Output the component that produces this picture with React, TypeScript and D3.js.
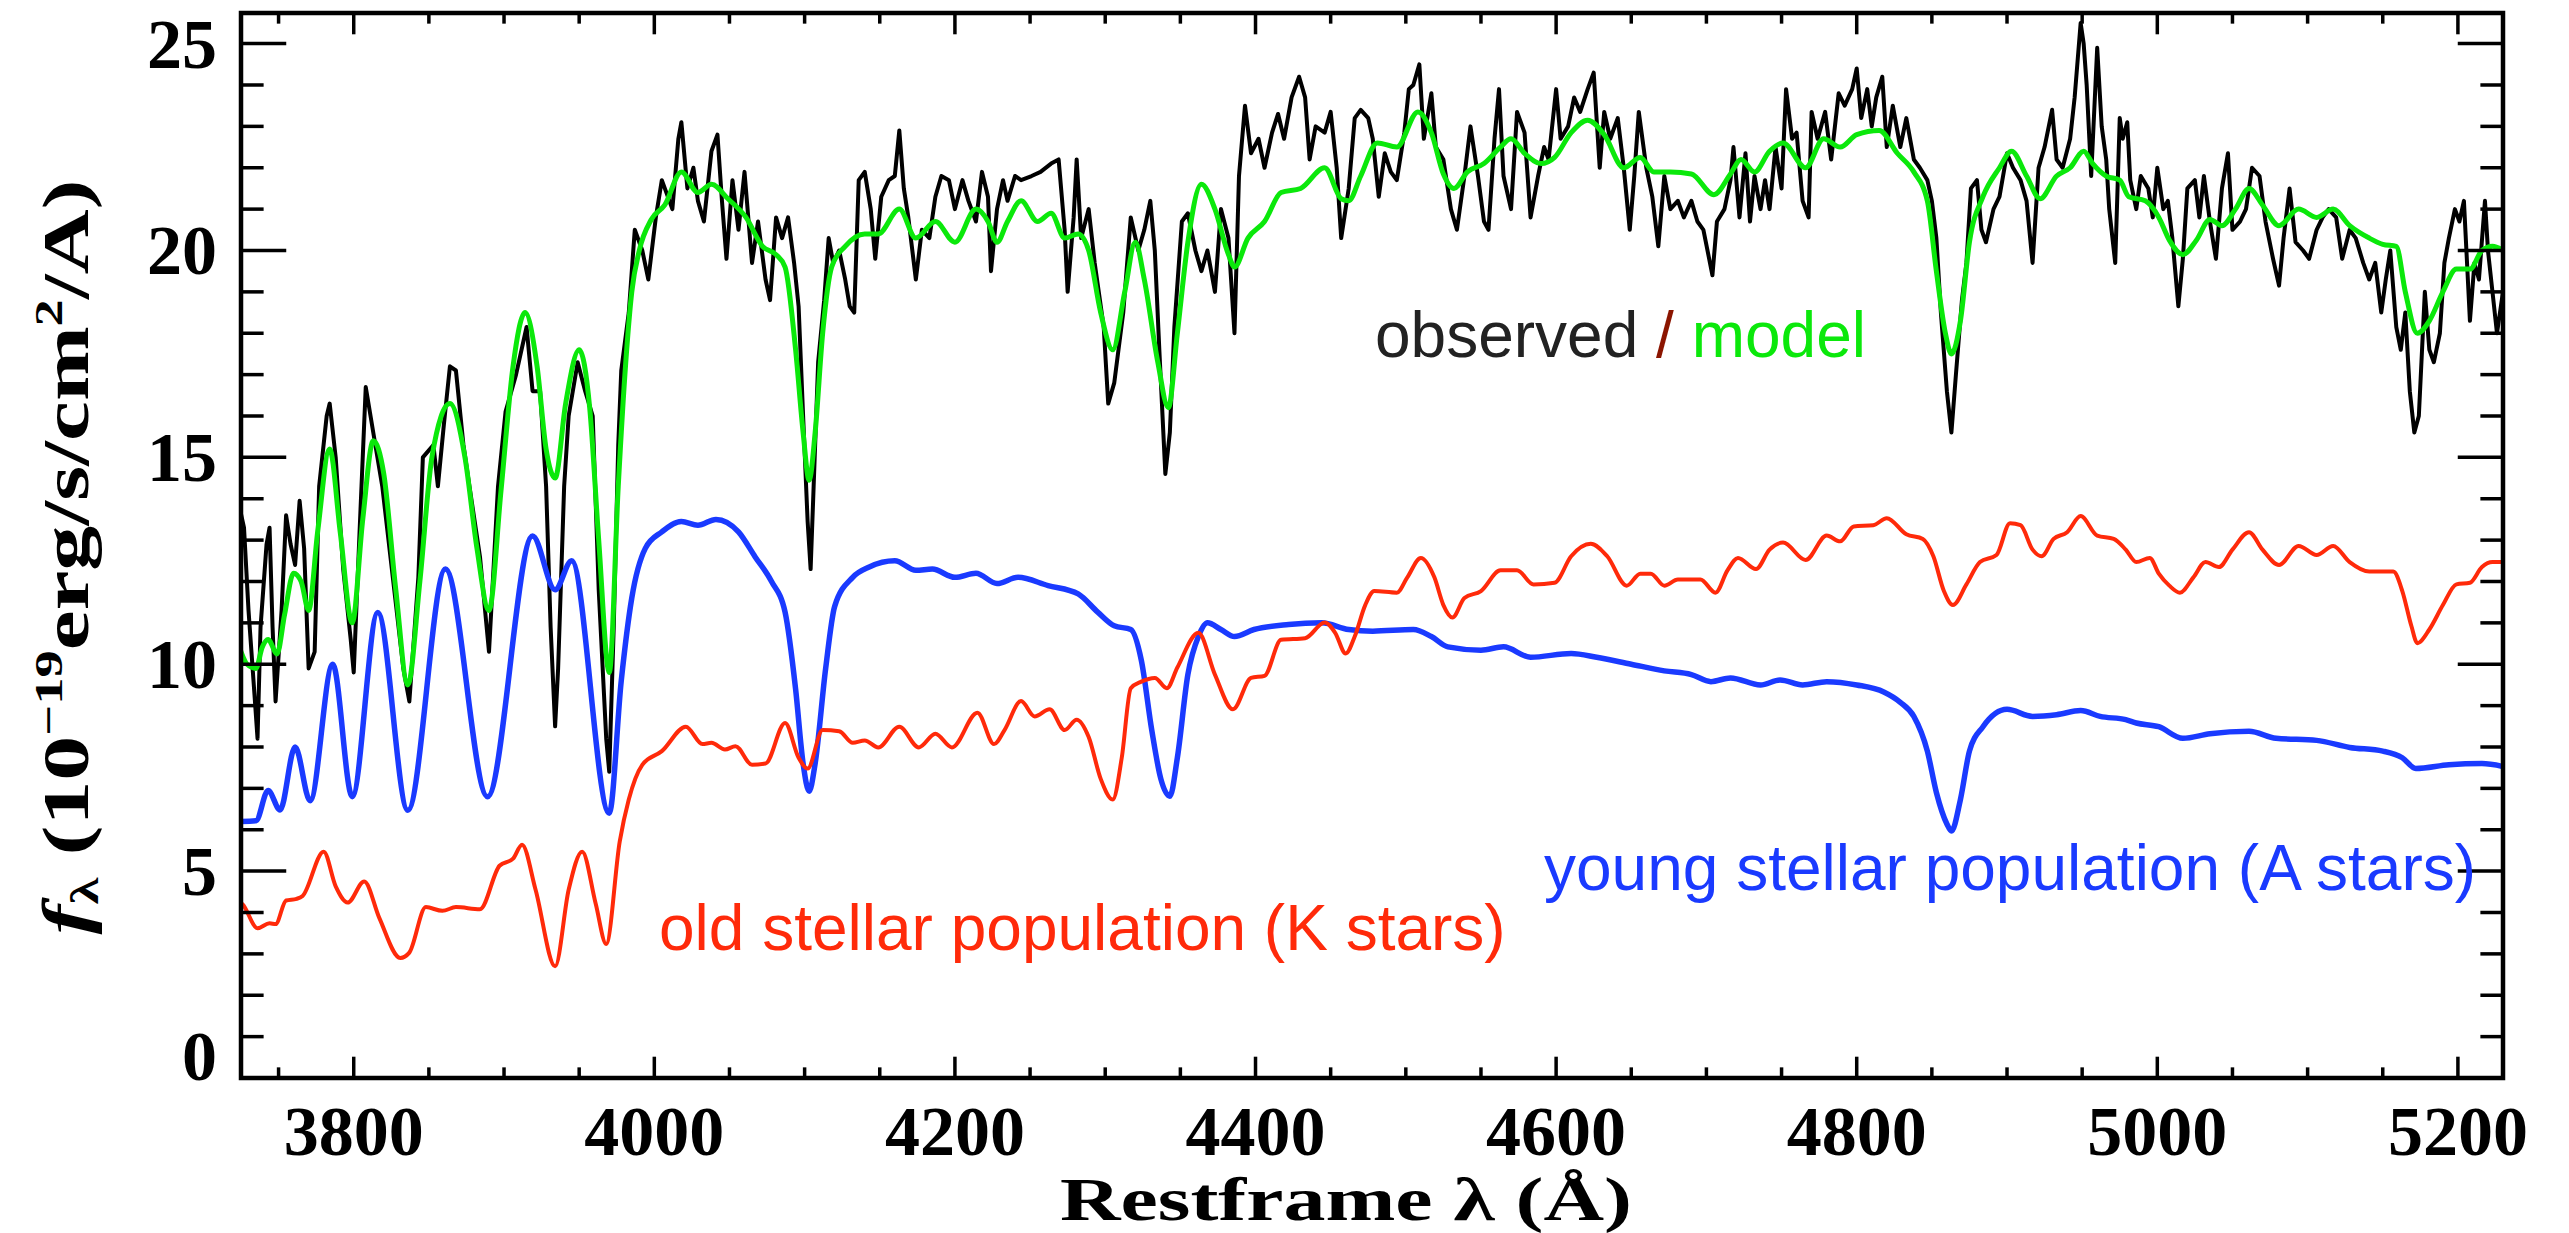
import React from "react";
import * as d3 from "d3";

// Canvas and plot frame (pixels)
const WIDTH = 2569;
const HEIGHT = 1233;
const PLOT = { left: 241, right: 2503, top: 13, bottom: 1078 };

// Axis domains and ticks
const X_DOMAIN: [number, number] = [3725, 5230];
const Y_DOMAIN: [number, number] = [0, 25.74];
const X_MAJOR = [3800, 4000, 4200, 4400, 4600, 4800, 5000, 5200];
const X_MINOR = d3.range(3750, 5230, 50);
const Y_MAJOR = [0, 5, 10, 15, 20, 25];
const Y_MINOR = d3.range(0, 26, 1);

// Observed spectrum: [restframe wavelength (Å), flux (1e-19 erg/s/cm^2/Å)]
const observed: [number, number][] = [
  [3724, 13.8], [3727, 13.3], [3730, 11.3], [3734, 9.25], [3736, 8.2], [3738, 10.9], [3742, 12.9], [3744, 13.3],
  [3746, 10.9], [3748, 9.1], [3752, 11.3], [3755, 13.6], [3758, 12.9], [3761, 12.4], [3764, 13.95], [3767, 12.8],
  [3770, 9.9], [3774, 10.3], [3777, 14.3], [3782, 16.0], [3784, 16.3], [3788, 15.0], [3793, 12.3], [3798, 10.6],
  [3800, 9.8], [3804, 13.3], [3808, 16.7], [3813, 15.6], [3819, 14.3], [3826, 12.1], [3833, 9.9], [3837, 9.1],
  [3843, 12.1], [3846, 15.0], [3853, 15.3], [3856, 14.3], [3860, 15.8], [3864, 17.2], [3868, 17.1], [3873, 15.3],
  [3877, 14.3], [3884, 12.6], [3890, 10.3], [3896, 14.3], [3901, 16.1], [3908, 17.0], [3915, 18.15], [3919, 16.6],
  [3924, 16.6], [3928, 14.3], [3931, 10.9], [3934, 8.5], [3936, 9.9], [3940, 14.3], [3943, 16.0], [3949, 17.3],
  [3954, 16.6], [3959, 16.0], [3963, 11.8], [3968, 8.2], [3970, 7.4], [3973, 10.9], [3976, 15.3], [3978, 17.1],
  [3983, 18.5], [3987, 20.5], [3992, 20.0], [3996, 19.3], [4001, 20.8], [4005, 21.7], [4012, 21.0], [4016, 22.7],
  [4018, 23.1], [4022, 21.5], [4026, 22.0], [4029, 21.2], [4033, 20.7], [4038, 22.4], [4042, 22.8], [4045, 21.2],
  [4048, 19.8], [4052, 21.7], [4056, 20.5], [4060, 21.9], [4065, 19.7], [4069, 20.7], [4074, 19.3], [4077, 18.8],
  [4081, 20.8], [4085, 20.3], [4089, 20.8], [4093, 19.7], [4096, 18.65], [4099, 16.0], [4102, 13.45], [4104, 12.3],
  [4106, 14.3], [4109, 17.3], [4113, 18.8], [4116, 20.3], [4119, 19.7], [4123, 20.0], [4127, 19.3], [4130, 18.65],
  [4133, 18.5], [4136, 21.7], [4140, 21.9], [4144, 21.0], [4147, 19.8], [4151, 21.3], [4156, 21.7], [4160, 21.8],
  [4163, 22.9], [4166, 21.5], [4169, 20.8], [4174, 19.3], [4178, 20.5], [4183, 20.3], [4187, 21.3], [4191, 21.8],
  [4196, 21.7], [4200, 21.0], [4205, 21.7], [4209, 21.2], [4214, 20.7], [4218, 21.9], [4222, 21.3], [4224, 19.5],
  [4228, 21.0], [4232, 21.7], [4235, 21.2], [4240, 21.8], [4244, 21.7], [4251, 21.8], [4257, 21.9], [4264, 22.1],
  [4269, 22.2], [4273, 20.5], [4275, 19.0], [4279, 20.8], [4281, 22.2], [4284, 20.3], [4289, 21.0], [4293, 19.7],
  [4299, 18.15], [4302, 16.3], [4306, 16.8], [4312, 18.5], [4317, 20.8], [4322, 20.0], [4326, 20.5], [4330, 21.2],
  [4333, 20.0], [4336, 17.6], [4340, 14.6], [4343, 15.6], [4346, 18.15], [4351, 20.7], [4355, 20.9], [4360, 20.0],
  [4364, 19.5], [4368, 20.0], [4373, 19.0], [4377, 21.0], [4382, 20.3], [4386, 18.0], [4389, 21.8], [4393, 23.5],
  [4397, 22.35], [4402, 22.7], [4406, 22.0], [4411, 22.85], [4415, 23.3], [4419, 22.7], [4424, 23.7], [4429, 24.2],
  [4433, 23.7], [4436, 22.2], [4440, 23.0], [4446, 22.85], [4450, 23.35], [4454, 22.0], [4457, 20.3], [4462, 21.5],
  [4466, 23.2], [4470, 23.4], [4475, 23.2], [4478, 22.7], [4482, 21.3], [4486, 22.35], [4490, 21.9], [4494, 21.7],
  [4499, 22.85], [4502, 23.9], [4505, 24.0], [4509, 24.5], [4512, 22.7], [4517, 23.8], [4520, 22.5], [4525, 22.2],
  [4530, 21.0], [4534, 20.5], [4539, 21.8], [4543, 23.0], [4548, 21.8], [4552, 20.7], [4555, 20.5], [4559, 22.7],
  [4562, 23.9], [4565, 21.8], [4570, 21.0], [4574, 23.35], [4579, 22.85], [4583, 20.8], [4588, 21.8], [4592, 22.5],
  [4595, 22.2], [4600, 23.9], [4603, 22.7], [4608, 23.0], [4612, 23.7], [4616, 23.35], [4621, 23.9], [4625, 24.3],
  [4629, 22.0], [4632, 23.35], [4636, 22.7], [4641, 23.2], [4645, 22.0], [4649, 20.5], [4652, 21.8], [4655, 23.35],
  [4660, 22.0], [4664, 21.3], [4668, 20.1], [4672, 21.8], [4676, 21.0], [4681, 21.2], [4685, 20.8], [4690, 21.2],
  [4694, 20.7], [4698, 20.5], [4704, 19.4], [4707, 20.7], [4712, 21.0], [4716, 21.7], [4718, 22.5], [4722, 20.8],
  [4726, 22.35], [4729, 20.7], [4732, 21.8], [4736, 21.0], [4739, 21.7], [4742, 21.0], [4746, 22.5], [4750, 21.5],
  [4753, 23.9], [4757, 22.7], [4760, 22.85], [4764, 21.2], [4768, 20.8], [4770, 23.35], [4774, 22.7], [4779, 23.35],
  [4783, 22.2], [4788, 23.8], [4792, 23.5], [4797, 23.9], [4800, 24.4], [4803, 23.2], [4807, 23.9], [4810, 23.0],
  [4813, 23.7], [4817, 24.2], [4820, 22.5], [4824, 23.5], [4829, 22.5], [4833, 23.2], [4838, 22.2], [4842, 22.0],
  [4847, 21.7], [4850, 21.2], [4853, 20.3], [4856, 18.5], [4860, 16.6], [4863, 15.6], [4866, 17.0], [4870, 18.8],
  [4873, 19.7], [4876, 21.5], [4880, 21.7], [4883, 20.5], [4886, 20.2], [4891, 21.0], [4895, 21.3], [4900, 22.35],
  [4904, 22.0], [4909, 21.7], [4913, 21.2], [4917, 19.7], [4921, 22.0], [4925, 22.5], [4930, 23.4], [4933, 22.2],
  [4937, 22.0], [4942, 22.7], [4945, 23.7], [4949, 25.5], [4951, 25.0], [4953, 24.0], [4956, 21.8], [4960, 24.9],
  [4963, 23.0], [4966, 22.2], [4968, 21.0], [4972, 19.7], [4975, 23.2], [4977, 22.7], [4980, 23.1], [4982, 21.7],
  [4986, 21.0], [4989, 21.8], [4994, 21.5], [4997, 20.8], [5000, 22.0], [5004, 21.0], [5007, 21.2], [5010, 20.3],
  [5014, 18.65], [5017, 19.8], [5020, 21.5], [5025, 21.7], [5028, 20.8], [5031, 21.8], [5035, 20.7], [5039, 19.8],
  [5043, 21.5], [5047, 22.35], [5050, 20.5], [5055, 20.7], [5059, 21.0], [5063, 22.0], [5068, 21.8], [5072, 20.7],
  [5077, 19.8], [5081, 19.15], [5084, 20.3], [5088, 21.5], [5092, 20.2], [5097, 20.0], [5101, 19.8], [5106, 20.5],
  [5110, 20.8], [5114, 21.0], [5119, 20.8], [5123, 19.8], [5128, 20.5], [5132, 20.3], [5137, 19.7], [5141, 19.3],
  [5145, 19.7], [5149, 18.5], [5152, 19.3], [5155, 20.0], [5159, 18.15], [5162, 17.6], [5165, 18.5], [5168, 16.6],
  [5171, 15.6], [5174, 16.0], [5178, 19.0], [5181, 17.6], [5184, 17.3], [5188, 18.0], [5191, 19.7], [5194, 20.3],
  [5198, 21.0], [5201, 20.7], [5204, 21.2], [5208, 18.3], [5211, 19.7], [5214, 19.3], [5218, 21.2], [5220, 20.0],
  [5223, 19.0], [5226, 18.0], [5230, 19.0],
];

// Best-fit model (sum of the two stellar populations)
const model: [number, number][] = [
  [3724, 10.4], [3729, 10.0], [3735, 9.9], [3739, 10.4], [3743, 10.6], [3749, 10.25], [3754, 11.2], [3760, 12.2],
  [3765, 12.0], [3770, 11.3], [3776, 13.2], [3784, 15.2], [3791, 13.2], [3799, 11.0], [3806, 13.5], [3813, 15.4],
  [3820, 14.6], [3828, 11.8], [3836, 9.5], [3844, 12.0], [3852, 15.0], [3864, 16.3], [3874, 15.0], [3882, 12.8],
  [3890, 11.3], [3898, 14.2], [3906, 17.2], [3914, 18.5], [3922, 17.2], [3928, 15.2], [3934, 14.5], [3941, 16.3],
  [3950, 17.6], [3957, 16.2], [3963, 13.0], [3970, 9.8], [3976, 14.3], [3981, 17.3], [3985, 19.0], [3990, 20.0],
  [3998, 20.75], [4007, 21.1], [4018, 21.9], [4029, 21.4], [4038, 21.6], [4049, 21.25], [4061, 20.8], [4072, 20.1],
  [4081, 19.9], [4087, 19.6], [4094, 17.6], [4099, 15.6], [4103, 14.45], [4107, 15.6], [4112, 18.0], [4118, 19.6],
  [4127, 20.1], [4140, 20.4], [4149, 20.4], [4163, 21.0], [4174, 20.3], [4187, 20.7], [4200, 20.2], [4214, 21.0],
  [4222, 20.7], [4228, 20.2], [4235, 20.7], [4244, 21.2], [4255, 20.7], [4264, 20.9], [4273, 20.3], [4282, 20.4],
  [4289, 20.0], [4297, 18.5], [4305, 17.6], [4313, 19.0], [4320, 20.2], [4326, 19.3], [4335, 17.3], [4342, 16.2],
  [4348, 18.0], [4355, 20.2], [4364, 21.6], [4373, 21.0], [4382, 19.9], [4386, 19.6], [4395, 20.3], [4406, 20.7],
  [4417, 21.4], [4430, 21.5], [4446, 22.0], [4457, 21.25], [4462, 21.2], [4470, 21.8], [4481, 22.6], [4494, 22.5],
  [4508, 23.35], [4517, 22.85], [4525, 21.85], [4532, 21.5], [4541, 21.9], [4552, 22.1], [4563, 22.5], [4570, 22.7],
  [4579, 22.35], [4590, 22.1], [4599, 22.25], [4610, 22.85], [4621, 23.15], [4632, 22.8], [4645, 22.0], [4656, 22.25],
  [4665, 21.9], [4676, 21.9], [4690, 21.85], [4705, 21.35], [4716, 21.85], [4723, 22.2], [4732, 21.9], [4742, 22.4],
  [4751, 22.6], [4766, 22.0], [4778, 22.7], [4789, 22.5], [4800, 22.8], [4815, 22.9], [4827, 22.35], [4838, 21.9],
  [4847, 21.2], [4853, 19.5], [4859, 18.0], [4863, 17.5], [4869, 18.3], [4875, 20.2], [4884, 21.3], [4895, 22.0],
  [4903, 22.4], [4913, 21.8], [4922, 21.25], [4933, 21.8], [4942, 22.0], [4951, 22.4], [4957, 22.1], [4966, 21.8],
  [4975, 21.7], [4981, 21.3], [4992, 21.2], [5001, 20.8], [5008, 20.25], [5017, 19.9], [5026, 20.25], [5035, 20.75],
  [5043, 20.6], [5052, 21.0], [5061, 21.5], [5070, 21.1], [5081, 20.6], [5094, 21.0], [5106, 20.8], [5117, 21.0],
  [5128, 20.6], [5141, 20.3], [5150, 20.15], [5159, 20.1], [5165, 19.0], [5173, 18.0], [5181, 18.3], [5190, 19.0],
  [5199, 19.55], [5208, 19.55], [5216, 20.0], [5223, 20.1], [5230, 20.0],
];

// Young stellar population (A stars)
const youngPop: [number, number][] = [
  [3724, 6.2], [3735, 6.22], [3743, 6.95], [3751, 6.48], [3761, 8.0], [3771, 6.7], [3786, 10.0], [3799, 6.8],
  [3816, 11.25], [3836, 6.47], [3861, 12.3], [3889, 6.8], [3919, 13.1], [3934, 11.8], [3945, 12.5], [3970, 6.4],
  [3978, 9.6], [3985, 11.6], [3994, 12.8], [4005, 13.2], [4018, 13.45], [4029, 13.36], [4041, 13.5], [4056, 13.2],
  [4067, 12.6], [4078, 12.0], [4087, 11.26], [4094, 9.4], [4099, 7.6], [4103, 6.93], [4107, 7.6], [4114, 9.9],
  [4120, 11.4], [4132, 12.1], [4143, 12.35], [4160, 12.5], [4174, 12.27], [4185, 12.3], [4200, 12.1], [4214, 12.2],
  [4228, 11.95], [4242, 12.1], [4262, 11.9], [4282, 11.7], [4295, 11.26], [4306, 10.93], [4317, 10.84], [4324, 10.1],
  [4331, 8.4], [4337, 7.23], [4343, 6.81], [4348, 7.74], [4355, 9.75], [4362, 10.67], [4368, 11.0], [4377, 10.84],
  [4386, 10.67], [4399, 10.84], [4422, 10.96], [4444, 11.0], [4462, 10.84], [4478, 10.8], [4505, 10.84], [4517, 10.67],
  [4528, 10.42], [4550, 10.34], [4565, 10.42], [4583, 10.17], [4610, 10.26], [4627, 10.17], [4650, 10.0], [4672, 9.84],
  [4690, 9.75], [4703, 9.58], [4716, 9.67], [4736, 9.5], [4749, 9.62], [4764, 9.5], [4780, 9.58], [4800, 9.5],
  [4818, 9.33], [4829, 9.08], [4838, 8.74], [4847, 7.9], [4853, 6.9], [4860, 6.14], [4863, 5.97], [4869, 6.73],
  [4875, 7.9], [4884, 8.49], [4900, 8.91], [4917, 8.74], [4933, 8.78], [4949, 8.88], [4962, 8.74], [4979, 8.66],
  [4986, 8.58], [5001, 8.49], [5017, 8.21], [5035, 8.32], [5061, 8.38], [5079, 8.21], [5106, 8.16], [5128, 7.99],
  [5150, 7.9], [5163, 7.74], [5172, 7.48], [5194, 7.57], [5216, 7.6], [5230, 7.53],
];

// Old stellar population (K stars)
const oldPop: [number, number][] = [
  [3722, 4.29], [3726, 4.2], [3736, 3.62], [3744, 3.74], [3748, 3.72], [3755, 4.29], [3762, 4.33], [3766, 4.4],
  [3780, 5.47], [3788, 4.63], [3796, 4.24], [3807, 4.75], [3817, 3.87], [3831, 2.9], [3837, 3.03], [3848, 4.13],
  [3859, 4.04], [3868, 4.13], [3884, 4.08], [3897, 5.13], [3906, 5.3], [3912, 5.64], [3921, 4.55], [3934, 2.7],
  [3943, 4.55], [3952, 5.47], [3961, 4.21], [3968, 3.24], [3977, 5.72], [3983, 6.73], [3992, 7.57], [4005, 7.9],
  [4021, 8.49], [4032, 8.07], [4038, 8.1], [4047, 7.94], [4054, 8.02], [4065, 7.57], [4074, 7.6], [4087, 8.58],
  [4096, 7.74], [4102, 7.48], [4112, 8.41], [4123, 8.38], [4132, 8.1], [4140, 8.16], [4149, 7.99], [4163, 8.49],
  [4176, 7.99], [4187, 8.32], [4198, 7.99], [4215, 8.83], [4226, 8.07], [4233, 8.41], [4244, 9.11], [4253, 8.74],
  [4263, 8.91], [4273, 8.41], [4281, 8.66], [4289, 8.24], [4297, 7.23], [4305, 6.73], [4311, 7.74], [4317, 9.42],
  [4324, 9.58], [4333, 9.67], [4341, 9.42], [4348, 9.92], [4362, 10.76], [4373, 9.75], [4385, 8.91], [4397, 9.67],
  [4406, 9.72], [4417, 10.59], [4433, 10.63], [4446, 11.01], [4453, 10.76], [4460, 10.26], [4466, 10.67], [4473, 11.43],
  [4479, 11.77], [4494, 11.73], [4501, 12.1], [4510, 12.57], [4519, 12.1], [4525, 11.43], [4531, 11.13], [4539, 11.6],
  [4550, 11.77], [4563, 12.27], [4574, 12.27], [4585, 11.93], [4599, 11.97], [4610, 12.61], [4623, 12.91], [4634, 12.61],
  [4647, 11.9], [4656, 12.19], [4663, 12.19], [4672, 11.9], [4681, 12.05], [4696, 12.05], [4706, 11.73], [4714, 12.27],
  [4721, 12.57], [4733, 12.3], [4742, 12.77], [4751, 12.94], [4766, 12.52], [4780, 13.11], [4789, 12.97], [4798, 13.33],
  [4811, 13.36], [4820, 13.53], [4833, 13.14], [4844, 13.03], [4851, 12.61], [4858, 11.77], [4864, 11.43], [4873, 11.93],
  [4882, 12.47], [4893, 12.64], [4902, 13.41], [4909, 13.36], [4917, 12.77], [4923, 12.61], [4931, 13.03], [4940, 13.19],
  [4949, 13.58], [4960, 13.11], [4971, 13.03], [4979, 12.77], [4986, 12.47], [4995, 12.57], [5001, 12.19], [5008, 11.9],
  [5015, 11.73], [5024, 12.1], [5032, 12.47], [5041, 12.35], [5050, 12.77], [5061, 13.19], [5070, 12.77], [5081, 12.4],
  [5094, 12.86], [5106, 12.64], [5117, 12.86], [5128, 12.47], [5141, 12.24], [5157, 12.24], [5163, 11.77], [5169, 10.93],
  [5173, 10.51], [5181, 10.84], [5190, 11.43], [5199, 11.93], [5208, 11.97], [5216, 12.35], [5223, 12.47], [5230, 12.47],
];

const AXIS_FONT = "'Liberation Serif', 'DejaVu Serif', serif";
const NOTE_FONT = "'Liberation Sans', Arial, Helvetica, sans-serif";

export default function App() {
  const x = d3.scaleLinear().domain(X_DOMAIN).range([PLOT.left, PLOT.right]);
  const y = d3.scaleLinear().domain(Y_DOMAIN).range([PLOT.bottom, PLOT.top]);

  const jagged = d3
    .line<[number, number]>()
    .x((d) => x(d[0]))
    .y((d) => y(d[1]))
    .curve(d3.curveLinear);
  const smooth = d3
    .line<[number, number]>()
    .x((d) => x(d[0]))
    .y((d) => y(d[1]))
    .curve(d3.curveMonotoneX);

  const plotW = PLOT.right - PLOT.left;
  const plotH = PLOT.bottom - PLOT.top;
  const xMajorLen = plotH * 0.02;
  const xMinorLen = xMajorLen / 2;
  const yMajorLen = plotW * 0.02;
  const yMinorLen = yMajorLen / 2;
  const tickW = 3.5;

  return (
    <svg
      width={WIDTH}
      height={HEIGHT}
      viewBox={`0 0 ${WIDTH} ${HEIGHT}`}
      style={{ position: "absolute", left: 0, top: 0, background: "#fff" }}
    >
      <defs>
        <clipPath id="plot-area">
          <rect x={PLOT.left} y={PLOT.top} width={plotW} height={plotH} />
        </clipPath>
      </defs>
      <rect x={0} y={0} width={WIDTH} height={HEIGHT} fill="#fff" />

      {/* spectra */}
      <g clipPath="url(#plot-area)" fill="none" strokeLinejoin="round">
        <path d={jagged(observed) ?? ""} stroke="#000" strokeWidth={4} />
        <path d={smooth(youngPop) ?? ""} stroke="#1A3AFF" strokeWidth={5.5} />
        <path d={smooth(oldPop) ?? ""} stroke="#FF2A0A" strokeWidth={4} />
        <path d={smooth(model) ?? ""} stroke="#0BE80B" strokeWidth={5} />
      </g>

      {/* ticks on all four sides */}
      <g stroke="#000" strokeWidth={tickW}>
        {X_MINOR.map((v) => {
          const major = X_MAJOR.includes(v);
          const len = major ? xMajorLen : xMinorLen;
          return (
            <g key={`xt${v}`}>
              <line x1={x(v)} x2={x(v)} y1={PLOT.bottom} y2={PLOT.bottom - len} />
              <line x1={x(v)} x2={x(v)} y1={PLOT.top} y2={PLOT.top + len} />
            </g>
          );
        })}
        {Y_MINOR.map((v) => {
          const major = Y_MAJOR.includes(v);
          const len = major ? yMajorLen : yMinorLen;
          return (
            <g key={`yt${v}`}>
              <line x1={PLOT.left} x2={PLOT.left + len} y1={y(v)} y2={y(v)} />
              <line x1={PLOT.right} x2={PLOT.right - len} y1={y(v)} y2={y(v)} />
            </g>
          );
        })}
      </g>

      {/* frame */}
      <rect
        x={PLOT.left}
        y={PLOT.top}
        width={plotW}
        height={plotH}
        fill="none"
        stroke="#000"
        strokeWidth={4.5}
      />

      {/* tick labels */}
      <g fontFamily={AXIS_FONT} fontWeight="bold" fontSize={70} fill="#000">
        {X_MAJOR.map((v) => (
          <text key={`xl${v}`} x={x(v)} y={1155} textAnchor="middle">
            {v}
          </text>
        ))}
        {Y_MAJOR.map((v) => (
          <text
            key={`yl${v}`}
            x={PLOT.left - 24}
            y={Math.min(y(v) + 24, PLOT.bottom + 2)}
            textAnchor="end"
          >
            {v}
          </text>
        ))}
      </g>

      {/* axis titles */}
      <text
        x={1346}
        y={1220}
        textAnchor="middle"
        fontFamily={AXIS_FONT}
        fontWeight="bold"
        fontSize={62}
        textLength={572}
        lengthAdjust="spacingAndGlyphs"
      >
        Restframe λ (Å)
      </text>
      <text
        transform="translate(88,557) rotate(-90)"
        textAnchor="middle"
        fontFamily={AXIS_FONT}
        fontWeight="bold"
        fontSize={66}
        textLength={755}
        lengthAdjust="spacingAndGlyphs"
      >
        <tspan fontStyle="italic">f</tspan>
        <tspan fontSize={40} dy={10}>λ</tspan>
        <tspan dy={-10}> (10</tspan>
        <tspan fontSize={40} dy={-26}>−19</tspan>
        <tspan dy={26}>erg/s/cm</tspan>
        <tspan fontSize={40} dy={-26}>2</tspan>
        <tspan dy={26}>/A)</tspan>
      </text>

      {/* annotations */}
      <g fontFamily={NOTE_FONT} fontSize={64}>
        <text x={1375} y={357}>
          <tspan fill="#222">observed </tspan>
          <tspan fill="#8B1500">/</tspan>
          <tspan fill="#0BE80B"> model</tspan>
        </text>
        <text x={659} y={950} fill="#FF2A0A">
          old stellar population (K stars)
        </text>
        <text x={1544} y={890} fill="#1A3AFF">
          young stellar population (A stars)
        </text>
      </g>
    </svg>
  );
}
